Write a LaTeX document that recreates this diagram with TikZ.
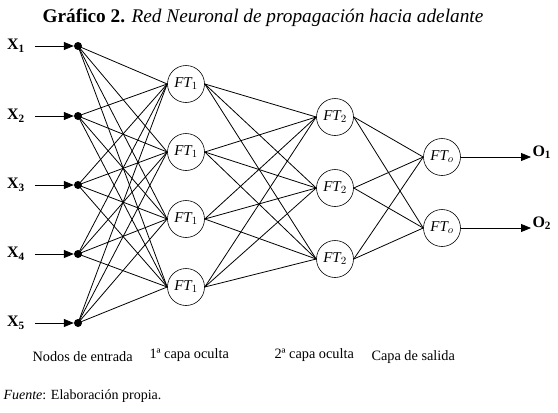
\documentclass[tikz,border=0pt]{standalone}
\usepackage{fontspec}
\setmainfont{Liberation Serif}
\usetikzlibrary{arrows.meta}
\begin{document}
\begin{tikzpicture}[x=1pt,y=-1pt,
  dotnode/.style={circle,fill=black,inner sep=0pt,minimum size=8pt},
  neuron/.style={circle,draw,line width=0.6pt,minimum size=37pt,inner sep=0pt,font=\fontsize{15}{17}\selectfont\itshape},
  link/.style={line width=0.8pt},
  inarrow/.style={line width=0.8pt,-{Triangle[length=10pt,width=8pt]}},
  lbl/.style={font=\fontsize{16}{18}\selectfont\bfseries},
  captext/.style={font=\fontsize{14.3}{16}\selectfont}]
\useasboundingbox (0,0) rectangle (558,413);
\node[font=\fontsize{19.3}{22}\selectfont] (title) at (263,18) {\textbf{Gráfico 2.} \textit{Red Neuronal de propagación hacia adelante}};
% inputs
\foreach \i/\y in {1/46,2/116,3/185,4/254,5/323}{
  \node[dotnode] (d\i) at (78,\y) {};
  \node[lbl] (x\i) at (16,\y) {X$_{\mathbf{\i}}$};
  \coordinate (s\i) at (35,\y);
  \draw[inarrow] (s\i) -- (d\i.west);
}
% hidden layers
\foreach \i/\y in {1/84,2/152,3/219,4/287}{
  \node[neuron] (a\i) at (186,\y) {FT$_{1}$};
}
\foreach \i/\y in {1/117,2/188,3/259}{
  \node[neuron] (b\i) at (335,\y) {FT$_{2}$};
}
\foreach \i/\y in {1/157,2/228}{
  \node[neuron] (c\i) at (442,\y) {FT$_{o}$};
}
\foreach \i in {1,...,5}{\foreach \j in {1,...,4}{\draw[link] (d\i.center) -- (a\j.west);}}
\foreach \i in {1,...,4}{\foreach \j in {1,...,3}{\draw[link] (a\i.east) -- (b\j.west);}}
\foreach \i in {1,...,3}{\foreach \j in {1,2}{\draw[link] (b\i.east) -- (c\j.west);}}
\coordinate (e1) at (531,157);
\coordinate (e2) at (531,228);
\draw[inarrow] (c1.east) -- (e1);
\draw[inarrow] (c2.east) -- (e2);
\node[lbl,anchor=west] (o1) at (529,152) {O$_{\mathbf{1}}$};
\node[lbl,anchor=west] (o2) at (529,223) {O$_{\mathbf{2}}$};
% captions
\node[captext,anchor=west] (l1) at (29,357) {Nodos de entrada};
\node[captext,anchor=west] (l2) at (146,355) {1ª capa oculta};
\node[captext,anchor=west] (l3) at (271,355) {2ª capa oculta};
\node[captext,anchor=west] (l4) at (368,357) {Capa de salida};
\node[font=\fontsize{14}{16}\selectfont,anchor=west] (src) at (0,396) {\textit{Fuente}: Elaboración propia.};
\end{tikzpicture}
\end{document}
